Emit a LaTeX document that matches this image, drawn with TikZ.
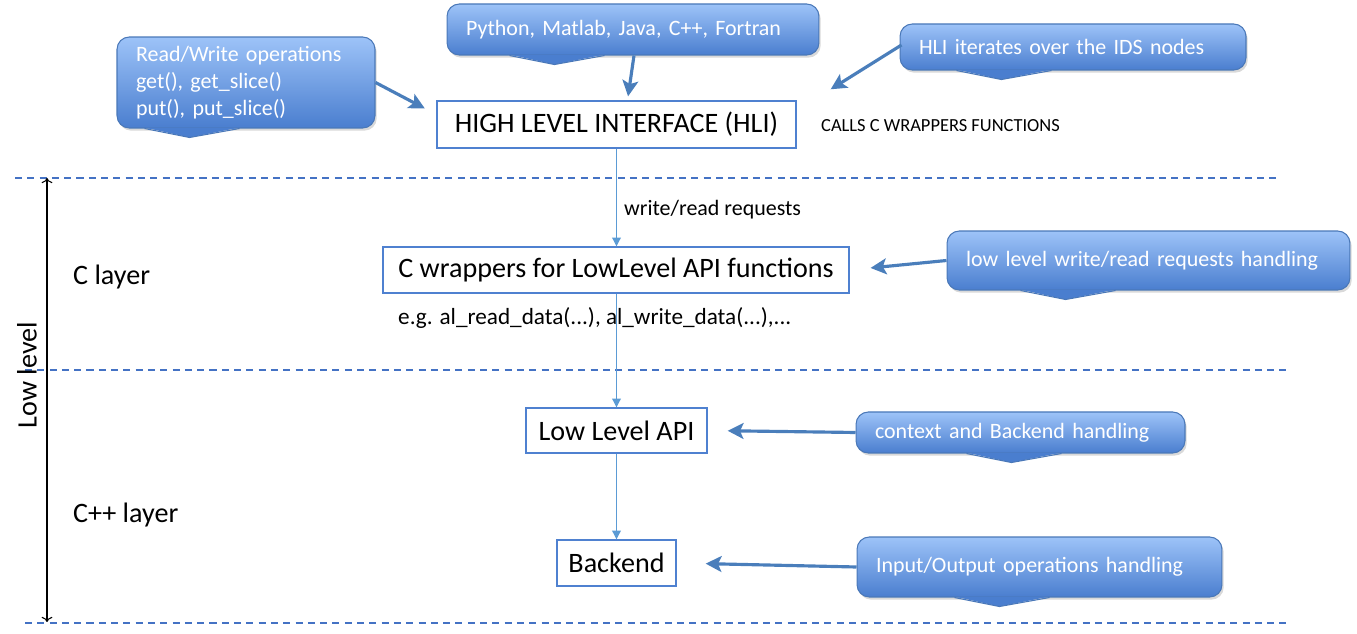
\documentclass[tikz,border=0pt]{standalone}
\usepackage{fontspec}
\setmainfont{Carlito}
\usepackage{tikz}
\usetikzlibrary{arrows,arrows.meta,positioning,calc,shadows}

\definecolor{boxedge}{HTML}{4F81D0}
\definecolor{dashblue}{HTML}{4472C4}
\definecolor{flowblue}{HTML}{5B9BD5}
\definecolor{calltop}{HTML}{9DC3F8}
\definecolor{callbot}{HTML}{4A7ECF}
\definecolor{calledge}{HTML}{4A78B8}
\definecolor{pointblue}{HTML}{4A7EBB}

\tikzset{
  layerbox/.style={draw=boxedge, fill=white, line width=0.8pt, font=\fontsize{16}{19}\selectfont},
  callout/.style={rounded corners=7pt, draw=calledge, line width=0.6pt,
    top color=calltop, bottom color=callbot, text=white, align=left,
    inner xsep=0.38cm, font=\fontsize{12.5}{15.5}\selectfont,
    drop shadow={opacity=0.3, shadow xshift=1pt, shadow yshift=-1.5pt}},
  flow/.style={draw=flowblue, line width=0.6pt, -{Triangle[length=5pt,width=5pt]}},
  pointer/.style={draw=pointblue, line width=1.8pt, -{Stealth[length=9pt,width=9pt,inset=2pt]}},
  layerline/.style={draw=dashblue, line width=0.8pt, dash pattern=on 4pt off 3pt},
}

% tail under a callout: node, x offset of the tip from the south west corner
\newcommand{\calltail}[2]{%
  \fill[callbot] ($(#1.south west)+(#2-45,-1)$) -- ($(#1.south west)+(#2,9)$) -- ($(#1.south west)+(#2+50,-1)$) -- cycle;
  \draw[calledge, line width=0.6pt] ($(#1.south west)+(#2-45,0)$) -- ($(#1.south west)+(#2,9)$) -- ($(#1.south west)+(#2+50,0)$);}

\begin{document}
\begin{tikzpicture}[x=0.02cm, y=-0.02cm]
        \useasboundingbox (0,0) rectangle (1357,634);

        % Layer separators
        \draw[layerline] (15,178) -- (1280,178);
        \draw[layerline] (25,370) -- (1290,370);
        \draw[layerline] (25,623) -- (1290,623);

        % Low level span
        \coordinate (lowtop) at (47,178);
        \coordinate (lowbot) at (47,622);
        \draw[<->, line width=0.6pt] (lowtop) -- (lowbot);
        \node[rotate=90, font=\fontsize{16}{19}\selectfont] (lowlab) at (27,375) {Low level};
        \node[anchor=west, font=\fontsize{16}{19}\selectfont] (clayer) at (67,277) {C layer};
        \node[anchor=west, font=\fontsize{16}{19}\selectfont] (cpplayer) at (67,515) {C++ layer};

        % Main boxes
        \node[layerbox, minimum width=7.18cm, minimum height=0.94cm] (hli) at (616.5,124.5) {HIGH LEVEL INTERFACE (HLI)};
        \node[layerbox, minimum width=9.32cm, minimum height=0.92cm] (cw) at (616,270) {C wrappers for LowLevel API functions};
        \node[layerbox, minimum width=3.62cm, minimum height=0.90cm] (lla) at (616.5,430.5) {Low Level API};
        \node[layerbox, minimum width=2.38cm, minimum height=0.92cm] (be) at (616.5,563) {Backend};

        \draw[flow] (hli.south) -- (hli.south |- cw.north);
        \draw[flow] (hli.south |- cw.south) -- (hli.south |- lla.north);
        \draw[flow] (hli.south |- lla.south) -- (hli.south |- be.north);

        % Notes
        \node[anchor=west, font=\fontsize{12.5}{15}\selectfont] (reqs) at (618,210) {write/read requests};
        \node[anchor=west, font=\fontsize{13.2}{15}\selectfont] (eg) at (392,318) {e.g. al\_read\_data(...), al\_write\_data(...),...};
        \node[anchor=west, font=\fontsize{10.5}{13}\selectfont] (calls) at (815,126) {CALLS C WRAPPERS FUNCTIONS};

        % Callouts
        \node[callout, text width=4.40cm, minimum height=1.82cm] (rw) at (246,82.5) {Read/Write operations\\get(), get\_slice()\\put(), put\_slice()};
        \calltail{rw}{73}
        \node[callout, text width=6.68cm, minimum height=1.02cm] (lang) at (633,29.5) {Python, Matlab, Java, C++, Fortran};
        \calltail{lang}{108}
        \node[callout, text width=6.16cm, minimum height=0.92cm] (iter) at (1073,47) {HLI iterates over the IDS nodes};
        \calltail{iter}{102}
        \node[callout, text width=7.30cm, minimum height=1.18cm] (handle) at (1148.5,260.5) {low level write/read requests handling};
        \calltail{handle}{119}
        \node[callout, text width=5.82cm, minimum height=0.82cm] (ctx) at (1020.5,432.5) {context and Backend handling};
        \calltail{ctx}{156}
        \node[callout, text width=6.54cm, minimum height=1.20cm] (io) at (1039.5,567) {Input/Output operations handling};
        \calltail{io}{143}

        % Pointers
        \draw[pointer, shorten >=0.26cm] (rw.east) -- ($(hli.west)+(0,-10)$);
        \draw[pointer, shorten >=0.08cm] ($(lang.south)+(1,0)$) -- ($(hli.north)+(11,0)$);
        \draw[pointer] ($(iter.west)+(2,-2)$) -- ($(hli.north east)+(34,-11)$);
        \draw[pointer, shorten >=0.42cm] (handle.west) -- (cw.east);
        \draw[pointer, shorten >=0.40cm] (ctx.west) -- (lla.east);
        \draw[pointer, shorten >=0.58cm] (io.west) -- (be.east);
	\end{tikzpicture}
\end{document}
